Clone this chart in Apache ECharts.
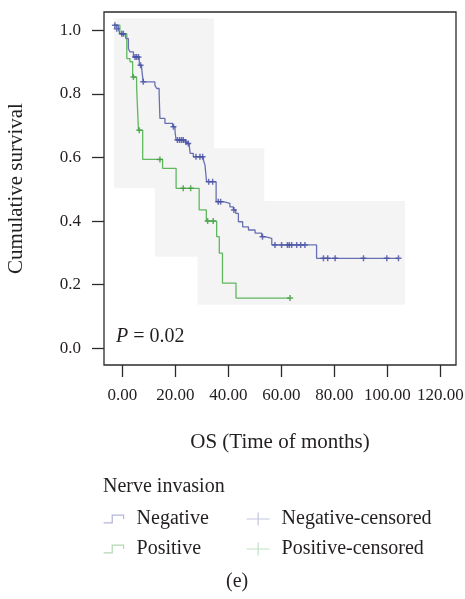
<!DOCTYPE html>
<html>
<head>
    <meta charset="UTF-8">
    <title>Nerve invasion - OS</title>
    <script src="https://cdn.jsdelivr.net/npm/echarts@6/dist/echarts.min.js"></script>
</head>
<body style="margin: 0;padding: 0;">
    <div id="container" style="width:465px; height:599px;"></div>
    <script>
        // survival curves (time in months, cumulative survival)
        var negTime = [-3.1, -1.5, -0.9, 1.0, 1.4, 2.3, 2.9, 4.2, 6.4, 7.3, 7.9, 12.3, 13.0, 13.9, 14.2, 16.1, 19.0, 19.9, 20.3, 23.7, 24.3, 25.3, 25.6, 26.8, 30.6, 31.2, 31.8, 35.4, 38.1, 40.6, 41.9, 42.8, 43.8, 45.4, 47.6, 50.1, 52.6, 53.8, 56.4, 73.3, 104.2];
        var negSurv = [1.016, 1.005, 0.989, 0.984, 0.974, 0.943, 0.932, 0.916, 0.890, 0.880, 0.838, 0.827, 0.817, 0.801, 0.723, 0.707, 0.697, 0.681, 0.655, 0.649, 0.644, 0.634, 0.613, 0.602, 0.592, 0.576, 0.524, 0.461, 0.456, 0.445, 0.435, 0.424, 0.398, 0.382, 0.372, 0.362, 0.351, 0.346, 0.325, 0.283, 0.283];
        var posTime = [-3.1, -0.9, 1.7, 2.9, 3.9, 5.4, 6.1, 7.7, 15.2, 20.3, 29.0, 31.7, 35.6, 36.6, 37.8, 42.9, 63.3];
        var posSurv = [1.016, 0.989, 0.911, 0.901, 0.853, 0.822, 0.686, 0.594, 0.566, 0.503, 0.435, 0.400, 0.351, 0.299, 0.205, 0.158, 0.158];

        // censored cases [time, survival]
        var negCensored = [[-2.8, 1.016], [-2.1, 1.005], [-0.2, 0.989], [0.4, 0.989], [4.8, 0.916], [5.4, 0.916], [6.1, 0.916], [6.9, 0.890], [7.9, 0.838],
            [19.3, 0.697], [20.8, 0.655], [21.6, 0.655], [22.3, 0.655], [23.0, 0.655], [24.0, 0.649], [24.9, 0.644], [27.8, 0.602], [29.3, 0.602], [30.3, 0.602],
            [32.6, 0.524], [34.1, 0.524], [36.2, 0.461], [37.1, 0.461], [42.1, 0.435], [52.9, 0.351], [57.6, 0.325], [60.1, 0.325], [62.3, 0.325], [63.0, 0.325],
            [63.9, 0.325], [65.8, 0.325], [67.3, 0.325], [68.9, 0.325], [75.9, 0.283], [77.5, 0.283], [80.3, 0.283], [91.0, 0.283], [99.8, 0.283], [104.2, 0.283]];
        var posCensored = [[4.2, 0.853], [6.4, 0.686], [14.2, 0.594], [23.0, 0.503], [25.8, 0.503], [32.2, 0.400], [34.3, 0.400], [63.3, 0.158]];

        // light grey background blocks [t0, t1, s0, s1]
        var greyBlocks = [[-3.1, 34.6, 0.503, 1.037], [12.3, 53.6, 0.288, 0.629], [28.4, 106.7, 0.137, 0.463]];

        var xTicks = [0, 20, 40, 60, 80, 100, 120];
        var yTicks = [0, 0.2, 0.4, 0.6, 0.8, 1.0];

        var serif = "'Liberation Serif', 'DejaVu Serif', serif";
        var plus = 'path://M0,5L10,5M5,0L5,10';

        function pairs(t, s) {
            return t.map((x, i) => [x, s[i]]);
        }

        var chart = echarts.init(document.getElementById('container'), null, { renderer: 'canvas' });
        var option = {
            animation: false,
            grid: {
                left: 104, top: 12, width: 352, height: 353,
                show: true, borderColor: '#2b2b2b', borderWidth: 1.3,
                outerBoundsMode: 'none'
            },
            xAxis: {
                type: 'value', min: -6.9, max: 125.9,
                name: 'OS (Time of months)', nameLocation: 'middle', nameGap: 67, nameMoveOverlap: false,
                nameTextStyle: { fontFamily: serif, fontSize: 21, color: '#231f20' },
                axisLine: { show: false, onZero: false },
                splitLine: { show: false },
                axisTick: { show: true, length: 12, customValues: xTicks, lineStyle: { color: '#2b2b2b', width: 1.3 } },
                axisLabel: {
                    customValues: xTicks, margin: 22, fontFamily: serif, fontSize: 17, color: '#231f20',
                    formatter: (v) => v.toFixed(2)
                }
            },
            yAxis: {
                type: 'value', min: -0.0525, max: 1.0575,
                name: 'Cumulative survival', nameLocation: 'middle', nameGap: 77, nameMoveOverlap: false,
                nameTextStyle: { fontFamily: serif, fontSize: 21, color: '#231f20' },
                axisLine: { show: false, onZero: false },
                splitLine: { show: false },
                axisTick: { show: true, length: 12, customValues: yTicks, lineStyle: { color: '#2b2b2b', width: 1.3 } },
                axisLabel: {
                    customValues: yTicks, margin: 23, fontFamily: serif, fontSize: 17, color: '#231f20',
                    formatter: (v) => v.toFixed(1)
                }
            },
            legend: [{
                orient: 'vertical', left: 103, top: 509, itemGap: 10, padding: 0,
                itemWidth: 20, itemHeight: 8,
                textStyle: { fontFamily: serif, fontSize: 20, lineHeight: 20, color: '#231f20', padding: [0, 0, 0, 8] },
                data: [
                    { name: 'Negative', icon: 'path://M0,22L25,22L25,0L58,0L58,11', itemStyle: { color: 'rgba(0,0,0,0)', borderColor: '#b3b6d6', borderWidth: 1.2 } },
                    { name: 'Positive', icon: 'path://M0,22L25,22L25,0L58,0L58,11', itemStyle: { color: 'rgba(0,0,0,0)', borderColor: '#b3d8b3', borderWidth: 1.2 } }
                ]
            }, {
                orient: 'vertical', left: 246, top: 509, itemGap: 10, padding: 0,
                itemWidth: 23, itemHeight: 13,
                textStyle: { fontFamily: serif, fontSize: 20, lineHeight: 20, color: '#231f20', padding: [0, 0, 0, 7] },
                data: [
                    { name: 'Negative-censored', icon: 'path://M0,6.5L23,6.5M11.5,0L11.5,13', itemStyle: { color: 'rgba(0,0,0,0)', borderColor: '#b3b6d6', borderWidth: 1.2 } },
                    { name: 'Positive-censored', icon: 'path://M0,6.5L23,6.5M11.5,0L11.5,13', itemStyle: { color: 'rgba(0,0,0,0)', borderColor: '#b3d8b3', borderWidth: 1.2 } }
                ]
            }],
            graphic: [
                { type: 'text', left: 103, top: 477, style: { text: 'Nerve invasion', font: '20px ' + serif, fill: '#231f20' } },
                {
                    type: 'text', left: 116, top: 327,
                    style: {
                        text: '{i|P} = 0.02', font: '20px ' + serif, fill: '#231f20',
                        rich: { i: { fontStyle: 'italic', fontFamily: serif, fontSize: 20 } }
                    }
                },
                { type: 'text', left: 226, top: 572, style: { text: '(e)', font: '20px ' + serif, fill: '#231f20' } }
            ],
            series: [{
                type: 'scatter', name: 'blocks', data: [], z: 0, silent: true,
                markArea: {
                    silent: true,
                    itemStyle: { color: '#f4f4f4' },
                    data: greyBlocks.map((b) => [{ xAxis: b[0], yAxis: b[3] }, { xAxis: b[1], yAxis: b[2] }])
                }
            }, {
                type: 'line', name: 'Positive', step: 'end', showSymbol: false, symbol: 'none', z: 2,
                color: '#5fb85f', lineStyle: { width: 1.3, color: '#5fb85f' },
                data: pairs(posTime, posSurv)
            }, {
                type: 'line', name: 'Negative', step: 'end', showSymbol: false, symbol: 'none', z: 3,
                color: '#6870b2', lineStyle: { width: 1.3, color: '#6870b2' },
                data: pairs(negTime, negSurv)
            }, {
                type: 'scatter', name: 'Positive-censored', symbol: plus, symbolSize: 6, z: 4,
                itemStyle: { color: 'rgba(0,0,0,0)', borderColor: '#3f9a3f', borderWidth: 1.5 },
                data: posCensored
            }, {
                type: 'scatter', name: 'Negative-censored', symbol: plus, symbolSize: 6, z: 5,
                itemStyle: { color: 'rgba(0,0,0,0)', borderColor: '#454fa3', borderWidth: 1.5 },
                data: negCensored
            }]
        };
        chart.setOption(option);
    </script>
</body>
</html>
